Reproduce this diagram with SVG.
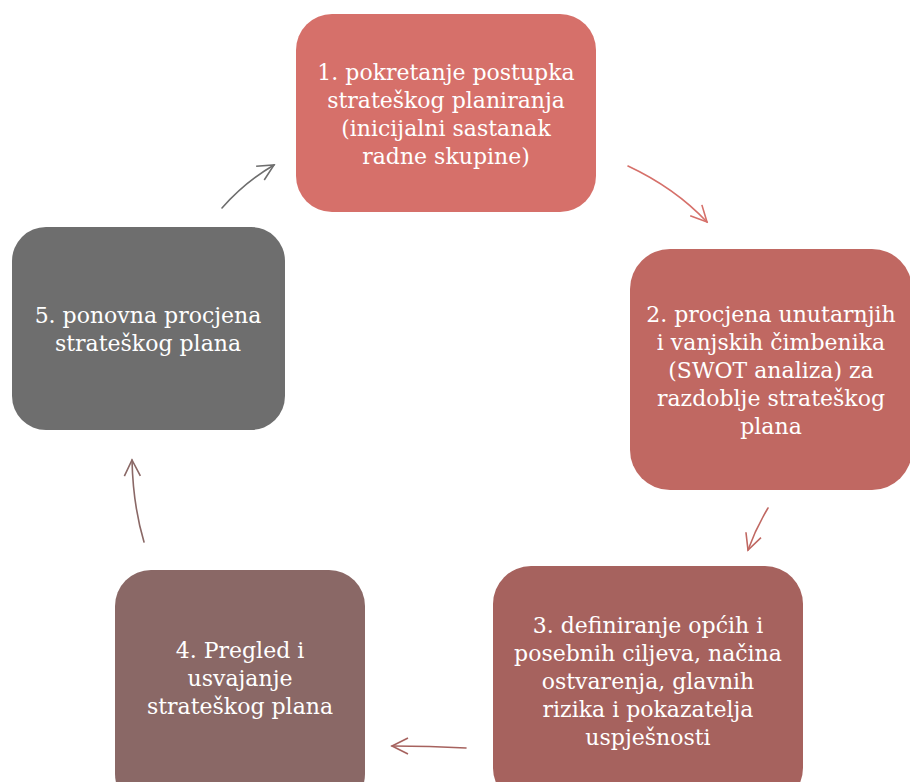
<svg xmlns="http://www.w3.org/2000/svg" width="910" height="782" viewBox="0 0 910 782">
<defs>
<style>
.t{font-family:"DejaVu Serif","Liberation Serif",serif;font-size:22px;fill:#ffffff;text-anchor:middle}
.c{fill:none;stroke-width:1.6;stroke-linecap:round}
</style>
<marker id="m1" viewBox="0 0 20 20" refX="18" refY="10" markerWidth="20" markerHeight="20" markerUnits="userSpaceOnUse" orient="auto"><path d="M2,2 L18,10 L2,18" fill="none" stroke="#D6706A" stroke-width="1.6"/></marker>
<marker id="m2" viewBox="0 0 20 20" refX="18" refY="10" markerWidth="20" markerHeight="20" markerUnits="userSpaceOnUse" orient="auto"><path d="M2,2 L18,10 L2,18" fill="none" stroke="#C06862" stroke-width="1.6"/></marker>
<marker id="m3" viewBox="0 0 20 20" refX="18" refY="10" markerWidth="20" markerHeight="20" markerUnits="userSpaceOnUse" orient="auto"><path d="M2,2 L18,10 L2,18" fill="none" stroke="#A6625E" stroke-width="1.6"/></marker>
<marker id="m4" viewBox="0 0 20 20" refX="18" refY="10" markerWidth="20" markerHeight="20" markerUnits="userSpaceOnUse" orient="auto"><path d="M2,2 L18,10 L2,18" fill="none" stroke="#8A6866" stroke-width="1.6"/></marker>
<marker id="m5" viewBox="0 0 20 20" refX="18" refY="10" markerWidth="20" markerHeight="20" markerUnits="userSpaceOnUse" orient="auto"><path d="M2,2 L18,10 L2,18" fill="none" stroke="#6E6E6E" stroke-width="1.6"/></marker>
</defs>
<rect width="910" height="782" fill="#ffffff"/>
<g id="connectors">
<path class="c" d="M628,166 Q675,188 707,222" stroke="#D6706A" marker-end="url(#m1)"/>
<path class="c" d="M768,508 Q756,528 748,550" stroke="#C06862" marker-end="url(#m2)"/>
<path class="c" d="M466,748 Q430,746 392,746" stroke="#A6625E" marker-end="url(#m3)"/>
<path class="c" d="M144,542 Q133,505 132,460" stroke="#8A6866" marker-end="url(#m4)"/>
<path class="c" d="M222,208 Q245,182 274,165" stroke="#6E6E6E" marker-end="url(#m5)"/>
</g>
<g id="node1">
<rect x="296" y="14" width="300" height="198" rx="36" fill="#D6706A"/>
<text class="t" x="446" y="80">1. pokretanje postupka</text>
<text class="t" x="446" y="108">strateškog planiranja</text>
<text class="t" x="446" y="136">(inicijalni sastanak</text>
<text class="t" x="446" y="164">radne skupine)</text>
</g>
<g id="node2">
<rect x="630" y="249" width="282" height="241" rx="40" fill="#C06862"/>
<text class="t" x="771" y="322">2. procjena unutarnjih</text>
<text class="t" x="771" y="350">i vanjskih čimbenika</text>
<text class="t" x="771" y="378">(SWOT analiza) za</text>
<text class="t" x="771" y="406">razdoblje strateškog</text>
<text class="t" x="771" y="434">plana</text>
</g>
<g id="node3">
<rect x="493" y="566" width="310" height="240" rx="38" fill="#A6625E"/>
<text class="t" x="648" y="633">3. definiranje općih i</text>
<text class="t" x="648" y="661">posebnih ciljeva, načina</text>
<text class="t" x="648" y="689">ostvarenja, glavnih</text>
<text class="t" x="648" y="717">rizika i pokazatelja</text>
<text class="t" x="648" y="745">uspješnosti</text>
</g>
<g id="node4">
<rect x="115" y="570" width="250" height="240" rx="36" fill="#8A6866"/>
<text class="t" x="240" y="658">4. Pregled i</text>
<text class="t" x="240" y="686">usvajanje</text>
<text class="t" x="240" y="714">strateškog plana</text>
</g>
<g id="node5">
<rect x="12" y="227" width="273" height="203" rx="34" fill="#6E6E6E"/>
<text class="t" x="148" y="323">5. ponovna procjena</text>
<text class="t" x="148" y="351">strateškog plana</text>
</g>
</svg>
